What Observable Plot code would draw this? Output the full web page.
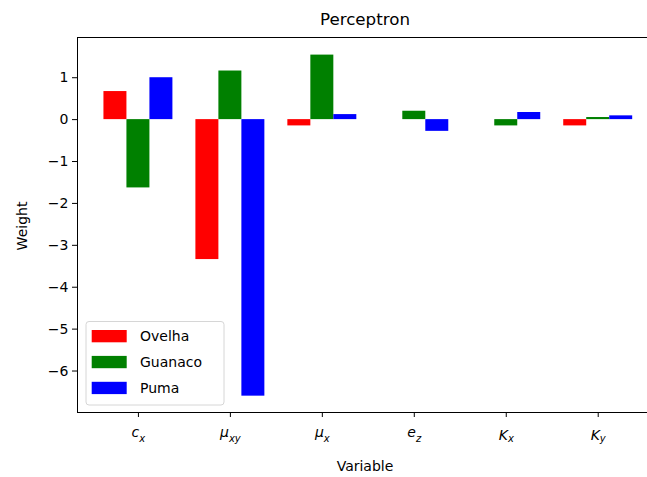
<!DOCTYPE html>
<html><head><meta charset="utf-8">
<script src="https://cdn.jsdelivr.net/npm/d3@7"></script>
<script src="https://cdn.jsdelivr.net/npm/@observablehq/plot@0.6"></script>
<style>body{margin:0;background:#fff}</style>
</head><body><div id="chart"></div>
<script>
const categories = ["c", "μ", "μ", "e", "K", "K"];
const subscripts = ["x", "xy", "x", "z", "x", "y"];
const series = ["Ovelha", "Guanaco", "Puma"];
const colors = ["#ff0000", "#008000", "#0000ff"];
const ovelha = [0.67, -3.34, -0.15, 0, 0, -0.15];
const guanaco = [-1.63, 1.16, 1.54, 0.2, -0.15, 0.05];
const puma = [1.0, -6.6, 0.12, -0.28, 0.17, 0.09];
const yTicks = [1, 0, -1, -2, -3, -4, -5, -6];
const title = "Perceptron";
const xLabel = "Variable";
const yLabel = "Weight";

const values = [ovelha, guanaco, puma];
const barWidth = 0.25;
const data = categories.flatMap((c, i) => series.map((s, j) => ({
  i, s, v: values[j][i],
  x1: i + (j - 1) * barWidth - barWidth / 2,
  x2: i + (j - 1) * barWidth + barWidth / 2
})));
const xDomain = [-0.6625, 5.536];
const yDomain = [-6.99, 1.96];

const chart = Plot.plot({
  width: 647, height: 477,
  marginTop: 37, marginBottom: 65, marginLeft: 77, marginRight: 0,
  style: {fontFamily: "DejaVu Sans", fontSize: "14px", background: "#fff", color: "#000"},
  x: {type: "linear", domain: xDomain},
  y: {domain: yDomain},
  color: {domain: series, range: colors},
  marks: [
    Plot.rectY(data, {x1: "x1", x2: "x2", y1: 0, y2: "v", fill: "s"}),
    Plot.ruleX([xDomain[0]], {stroke: "#000"}),
    Plot.ruleY(yDomain, {stroke: "#000"}),
    Plot.axisY({ticks: yTicks, tickSize: 5, tickPadding: 4, label: null,
      tickFormat: d => d < 0 ? "\u2212" + Math.abs(d) : String(d)}),
    Plot.axisX({ticks: d3.range(categories.length), tickSize: 5, tickPadding: 13, label: null,
      tickFormat: i => categories[i]})
  ]
});
document.getElementById("chart").appendChild(chart);
const svg = d3.select(chart);

svg.selectAll('g[aria-label="x-axis tick label"] text').each(function(d, k) {
  const el = d3.select(this);
  const lower = ["c", "μ", "e"].includes(categories[k]);
  el.text(null);
  el.append("tspan").attr("font-style", "italic").attr("dy", lower ? -3 : 0).text(categories[k]);
  el.append("tspan").attr("font-style", "italic").attr("font-size", "10px")
    .attr("dy", lower ? 4.5 : 1.5).text(subscripts[k]);
});

svg.append("text").attr("x", 365).attr("y", 25).attr("text-anchor", "middle")
  .attr("font-size", "16.7px").attr("fill", "#000").text(title);
svg.append("text").attr("x", 365).attr("y", 471).attr("text-anchor", "middle")
  .attr("font-size", "14px").attr("fill", "#000").text(xLabel);
svg.append("text").attr("transform", "translate(27,226) rotate(-90)").attr("text-anchor", "middle")
  .attr("font-size", "14px").attr("fill", "#000").text(yLabel);

const lg = svg.append("g");
lg.append("rect").attr("x", 86).attr("y", 321.5).attr("width", 138).attr("height", 83.5)
  .attr("rx", 3).attr("fill", "#fff").attr("fill-opacity", 0.8).attr("stroke", "#d6d6d6");
series.forEach((s, j) => {
  const cy = 336 + j * 25.9;
  lg.append("rect").attr("x", 91.7).attr("y", cy - 6).attr("width", 35).attr("height", 12.3).attr("fill", colors[j]);
  lg.append("text").attr("x", 140).attr("y", cy).attr("dy", "0.35em").attr("font-size", "14px")
    .attr("text-anchor", "start").attr("fill", "#000").text(s);
});
</script>
</body></html>
